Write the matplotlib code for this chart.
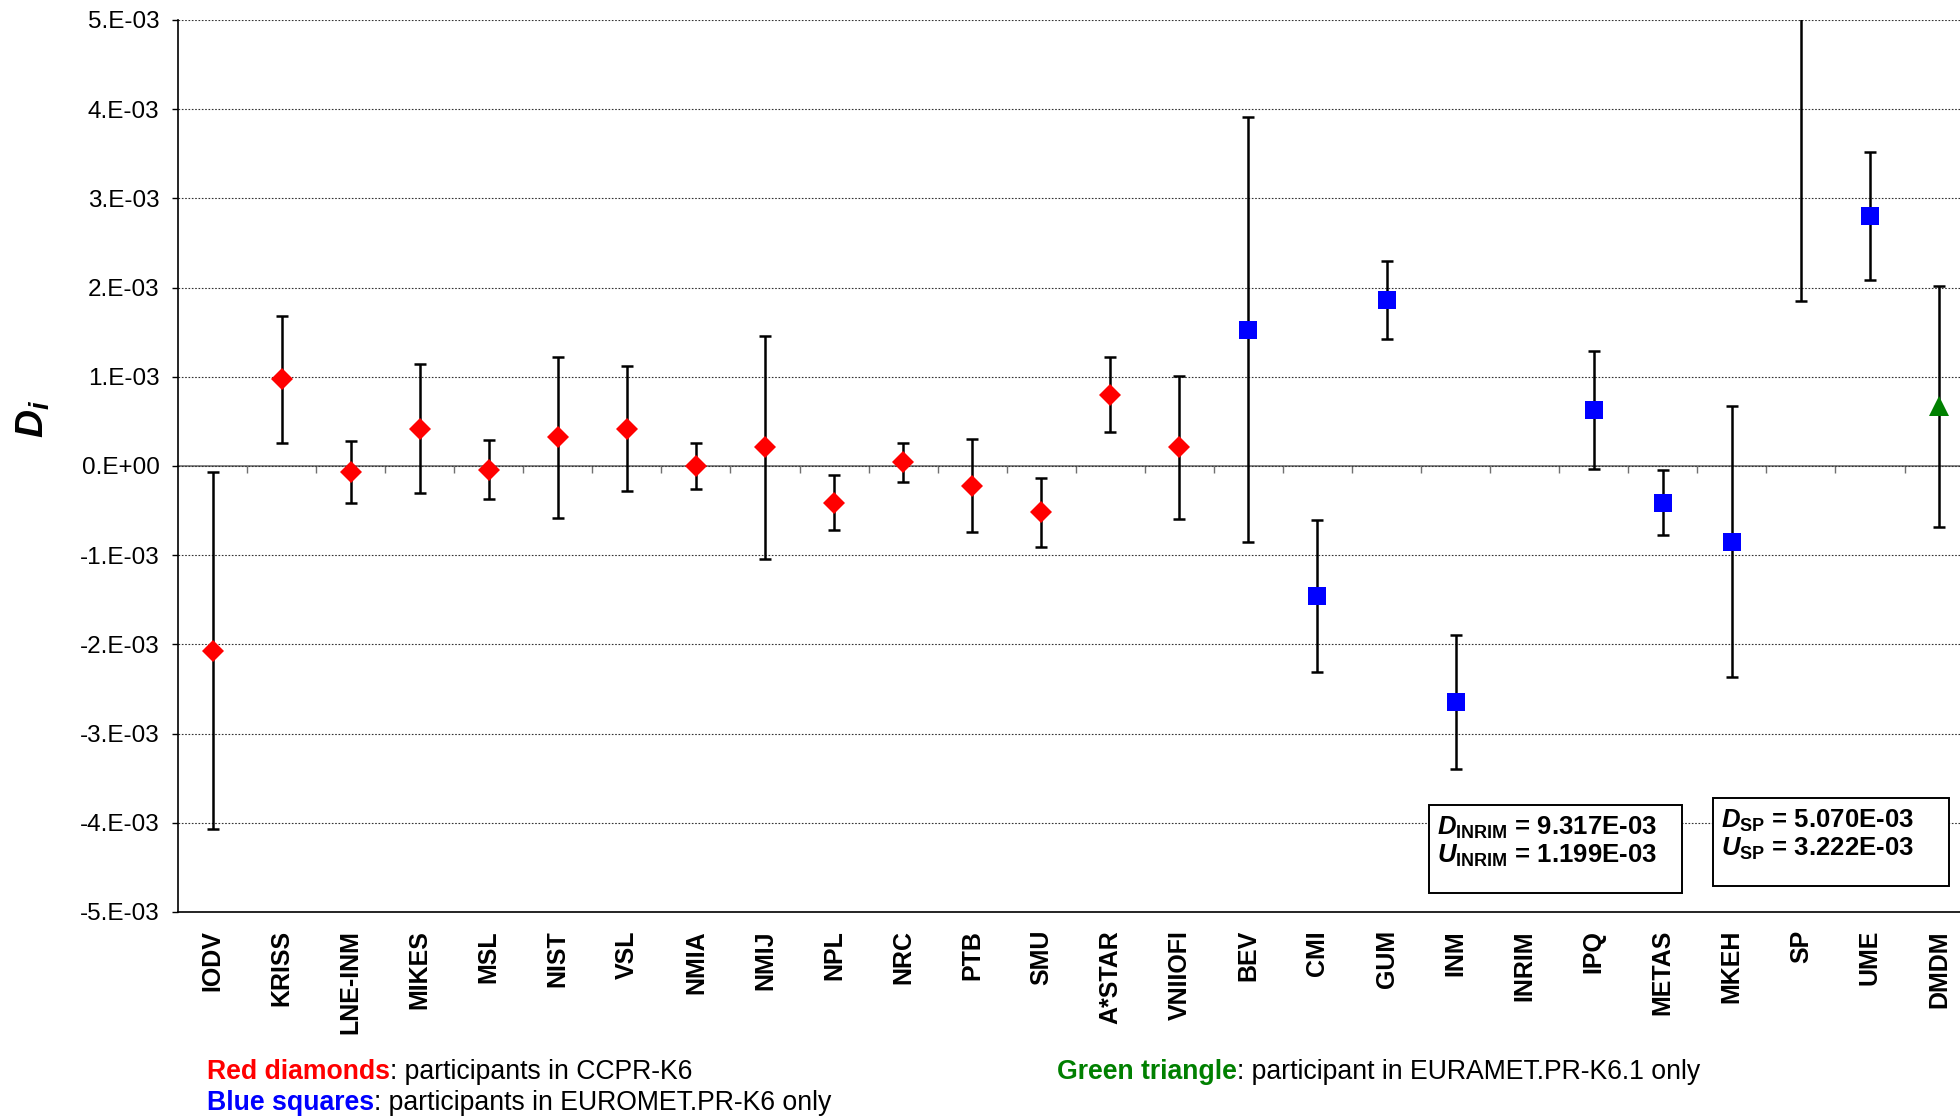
import numpy as np
import matplotlib
matplotlib.use("Agg")
import matplotlib.pyplot as plt
from matplotlib.patches import Rectangle

# ---------------- data ----------------
labels = ["IODV", "KRISS", "LNE-INM", "MIKES", "MSL", "NIST", "VSL", "NMIA", "NMIJ",
          "NPL", "NRC", "PTB", "SMU", "A*STAR", "VNIIOFI", "BEV", "CMI", "GUM", "INM",
          "INRIM", "IPQ", "METAS", "MKEH", "SP", "UME", "DMDM"]

red_labels = ["IODV", "KRISS", "LNE-INM", "MIKES", "MSL", "NIST", "VSL", "NMIA", "NMIJ",
              "NPL", "NRC", "PTB", "SMU", "A*STAR", "VNIIOFI"]
red_D = [-2.07e-3, 0.97e-3, -0.07e-3, 0.42e-3, -0.04e-3, 0.32e-3, 0.42e-3, 0.00e-3, 0.21e-3,
         -0.41e-3, 0.04e-3, -0.22e-3, -0.52e-3, 0.80e-3, 0.21e-3]
red_U = [2.00e-3, 0.71e-3, 0.35e-3, 0.72e-3, 0.33e-3, 0.90e-3, 0.70e-3, 0.26e-3, 1.25e-3,
         0.31e-3, 0.22e-3, 0.52e-3, 0.39e-3, 0.42e-3, 0.80e-3]

blue_labels = ["BEV", "CMI", "GUM", "INM", "INRIM", "IPQ", "METAS", "MKEH", "SP", "UME"]
blue_D = [1.53e-3, -1.46e-3, 1.86e-3, -2.65e-3, 9.317e-3, 0.63e-3, -0.41e-3, -0.85e-3, 5.070e-3, 2.80e-3]
blue_U = [2.38e-3, 0.85e-3, 0.44e-3, 0.75e-3, 1.199e-3, 0.66e-3, 0.36e-3, 1.52e-3, 3.222e-3, 0.72e-3]

green_labels = ["DMDM"]
green_D = [0.67e-3]
green_U = [1.35e-3]

ytick_values = [-5e-3, -4e-3, -3e-3, -2e-3, -1e-3, 0.0, 1e-3, 2e-3, 3e-3, 4e-3, 5e-3]
ytick_labels = ["-5.E-03", "-4.E-03", "-3.E-03", "-2.E-03", "-1.E-03", "0.E+00",
                "1.E-03", "2.E-03", "3.E-03", "4.E-03", "5.E-03"]

# ---------------- style ----------------
plt.rcParams["font.family"] = ["Liberation Sans", "DejaVu Sans"]
plt.rcParams["mathtext.fontset"] = "custom"
plt.rcParams["mathtext.rm"] = "Liberation Sans"
plt.rcParams["mathtext.it"] = "Liberation Sans:italic"
plt.rcParams["mathtext.bf"] = "Liberation Sans:bold"
try:
    plt.rcParams["mathtext.bfit"] = "Liberation Sans:bold:italic"
except KeyError:
    pass

W, H = 1960, 1117
fig = plt.figure(figsize=(W / 100, H / 100), dpi=100)
ax_left, ax_right = 178 / W, 1.0
ax_bottom, ax_top = 1 - 912 / H, 1 - 20 / H
ax = fig.add_axes([ax_left, ax_bottom, ax_right - ax_left, ax_top - ax_bottom])

YMIN, YMAX = -5e-3, 5e-3
pos = {lab: i for i, lab in enumerate(labels)}
ekw = dict(fmt="none", ecolor="black", elinewidth=1.8, capsize=4.4, capthick=1.8, zorder=3)


def series(labs, D, U, marker, color, ms):
    x = np.array([pos[l] for l in labs], dtype=float)
    D = np.array(D)
    ax.errorbar(x, D, yerr=U, **ekw)
    inside = (D >= YMIN) & (D <= YMAX)
    ax.plot(x[inside], D[inside], linestyle="none", marker=marker, color=color,
            markersize=ms, markeredgewidth=0, zorder=4)


series(red_labels, red_D, red_U, "D", "#FF0000", 11.0)
series(blue_labels, blue_D, blue_U, "s", "#0000FF", 13.5)
series(green_labels, green_D, green_U, "^", "#008000", 14.5)

spacing_px = 69.06
ax.set_xlim(-0.5, -0.5 + (W - 178) / spacing_px)
ax.set_ylim(YMIN, YMAX)

ax.set_yticks(ytick_values)
ax.set_yticklabels(ytick_labels, fontsize=17.5)
ax.tick_params(axis="y", direction="out", length=4.3, width=1, pad=9, colors="black")
ax.yaxis.grid(True, linestyle=(0, (1.5, 1.5)), color="#333333", linewidth=0.8)
ax.set_axisbelow(True)

ax.set_xticks(range(len(labels)))
ax.set_xticklabels(labels, rotation=90, fontsize=18, fontweight="bold", va="top")
ax.tick_params(axis="x", length=0, pad=13)

for s in ["top", "right"]:
    ax.spines[s].set_visible(False)
for s in ["left", "bottom"]:
    ax.spines[s].set_linewidth(1.2)
    ax.spines[s].set_color("black")

# zero line with tick marks between categories
sec = ax.secondary_xaxis(0.5)
sec.set_xticks(np.arange(0.5, len(labels), 1.0))
sec.tick_params(axis="x", direction="in", length=5, width=1, color="#707070",
                labeltop=False, labelbottom=False)
sec.spines["top"].set_color("#707070")
sec.spines["top"].set_linewidth(1.2)
sec.spines["bottom"].set_visible(False)

ax.set_ylabel(r"$\mathbfit{D}_{\mathbfit{i}}$", fontsize=28)
ax.yaxis.set_label_coords((52 - 178) / (W - 178), (912 - 419) / 892)


# annotation boxes
def px_to_ax(xp, yp):
    return (xp - 178) / (W - 178), (912 - yp) / 892


def box(x0, y0, x1, y1):
    a0 = px_to_ax(x0, y1)
    a1 = px_to_ax(x1, y0)
    ax.add_patch(Rectangle(a0, a1[0] - a0[0], a1[1] - a0[1], transform=ax.transAxes,
                           facecolor="white", edgecolor="black", linewidth=1.4,
                           clip_on=False, zorder=5))


box(1429, 805, 1682, 893)
box(1713, 798, 1949, 886)

tx = dict(transform=ax.transAxes, fontsize=18.5, fontweight="bold", ha="left",
          va="baseline", zorder=6)
ax.text(*px_to_ax(1437, 835), r"$\mathbfit{D}_{\mathbf{INRIM}}$ = 9.317E-03", **tx)
ax.text(*px_to_ax(1437, 863), r"$\mathbfit{U}_{\mathbf{INRIM}}$ = 1.199E-03", **tx)
ax.text(*px_to_ax(1721, 828), r"$\mathbfit{D}_{\mathbf{SP}}$ = 5.070E-03", **tx)
ax.text(*px_to_ax(1721, 856), r"$\mathbfit{U}_{\mathbf{SP}}$ = 3.222E-03", **tx)


# bottom legend text
def two_part(x, y, t1, c1, t2, size=19.2):
    a = fig.text(x / W, 1 - y / H, t1, color=c1, fontweight="bold", fontsize=size,
                 ha="left", va="baseline")
    ax.annotate(t2, xy=(1, 0), xycoords=a, xytext=(0, 0), textcoords="offset points",
                ha="left", va="bottom", fontsize=size, color="black",
                annotation_clip=False)


two_part(207, 1079, "Red diamonds", "#FF0000", ": participants in CCPR-K6")
two_part(207, 1110, "Blue squares", "#0000FF", ": participants in EUROMET.PR-K6 only")
two_part(1057, 1079, "Green triangle", "#008000", ": participant in EURAMET.PR-K6.1 only")

fig.savefig("out.png", dpi=100)
